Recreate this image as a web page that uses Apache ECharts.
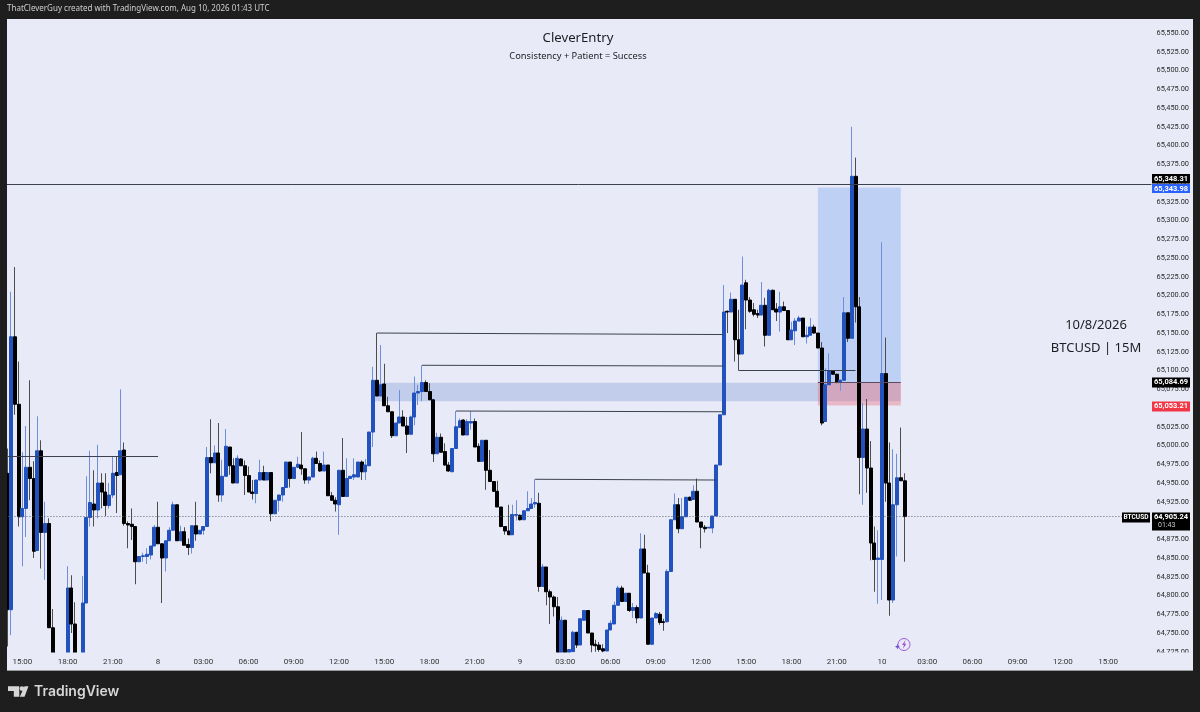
<!DOCTYPE html>
<html>
<head>
<meta charset="utf-8">
<style>
  html, body { margin: 0; padding: 0; background: #1e1e1e; }
  #main { width: 1200px; height: 712px; }
</style>
<script src="https://cdn.jsdelivr.net/npm/echarts@6/dist/echarts.min.js"></script>
</head>
<body>
<div id="main"></div>
<script>
// 15 minute BTCUSD candles
var opens = [
  64963,64781,65145,65055,64905,64916,64971,64956,64860,64993,
  64884,64896,64757,64690,64670,64680,64690,64810,64762,64700,
  64700,64790,64904,64922,64914,64950,64938,64920,64934,64964,
  64961,64994,64896,64895,64892,64845,64852,64852,64854,64866,
  64891,64869,64850,64873,64887,64921,64873,64885,64868,64864,
  64893,64882,64887,64892,64984,64977,64990,64934,64959,64998,
  64973,64950,64982,64973,64960,64938,64936,64954,64964,64954,
  64964,64909,64927,64934,64944,64978,64956,64971,64974,64969,
  64954,64958,64983,64976,64966,64974,64933,64927,64921,64967,
  64932,64956,64958,64958,64978,64965,64973,65018,65087,65066,
  65082,65053,65045,65013,65030,65038,65026,65015,65038,65070,
  65072,65084,65072,65061,64989,65011,64992,64974,64965,64996,
  65024,65034,65014,65030,65032,64999,64979,65007,64967,64952,
  64939,64918,64892,64886,64881,64907,64907,64901,64913,64916,
  64922,64923,64812,64838,64805,64798,64785,64724,64767,64724,
  64725,64751,64734,64767,64780,64750,64735,64734,64729,64726,
  64754,64762,64787,64810,64792,64803,64780,64784,64770,64862,
  64830,64735,64770,64775,64765,64765,64832,64901,64921,64889,
  64905,64931,64928,64939,64898,64891,64890,64890,64906,64974,
  65041,65179,65178,65195,65141,65122,65217,65194,65181,65176,
  65174,65187,65147,65207,65182,65178,65185,65180,65141,65153,
  65166,65170,65145,65147,65158,65150,65130,65032,65081,65100,
  65095,65084,65087,65177,65143,65359,65185,64984,65022,64970,
  64870,64848,64848,65096,64950,64794,64921,64957,64953
];
var closes = [
  64781,65145,65055,64905,64916,64971,64956,64859,64993,64884,
  64896,64757,64690,64670,64680,64690,64810,64762,64700,64690,
  64790,64904,64924,64914,64950,64938,64920,64934,64963,64960,
  64993,64896,64894,64892,64845,64852,64853,64855,64866,64891,
  64869,64850,64873,64887,64921,64873,64885,64867,64864,64893,
  64882,64887,64892,64984,64977,64990,64934,64959,64999,64973,
  64950,64983,64973,64960,64938,64936,64954,64964,64954,64964,
  64909,64927,64934,64944,64978,64956,64971,64975,64969,64954,
  64958,64983,64976,64966,64974,64933,64927,64922,64967,64932,
  64956,64959,64961,64978,64965,64974,65018,65087,65066,65081,
  65053,65045,65013,65030,65038,65026,65015,65038,65070,65072,
  65084,65072,65061,64989,65011,64991,64974,64966,64996,65025,
  65033,65014,65032,65032,64998,64979,65007,64967,64952,64939,
  64918,64892,64886,64881,64908,64908,64901,64913,64916,64922,
  64924,64812,64838,64805,64798,64785,64724,64767,64724,64728,
  64751,64734,64769,64780,64750,64734,64733,64728,64726,64754,
  64763,64787,64810,64792,64803,64780,64784,64770,64862,64830,
  64735,64770,64776,64764,64764,64832,64901,64921,64889,64905,
  64931,64927,64939,64898,64891,64889,64891,64906,64974,65041,
  65178,65178,65195,65141,65122,65214,65194,65179,65175,65174,
  65187,65147,65207,65181,65178,65185,65180,65141,65154,65166,
  65170,65145,65147,65158,65150,65130,65030,65081,65100,65095,
  65084,65087,65177,65143,65359,65185,64984,65022,64970,64870,
  64848,64850,65096,64950,64794,64921,64957,64953,64905.24
];
var lows = [
  64732,64747,65041,64892,64839,64878,64927,64850,64860,64836,
  64821,64757,64670,64660,64660,64670,64690,64750,64690,64680,
  64700,64790,64892,64892,64903,64916,64906,64916,64930,64910,
  64961,64893,64863,64874,64815,64845,64845,64842,64848,64866,
  64869,64790,64832,64873,64887,64873,64873,64867,64854,64856,
  64873,64882,64881,64892,64963,64977,64925,64925,64959,64961,
  64950,64950,64973,64934,64938,64928,64923,64954,64954,64954,
  64899,64909,64912,64925,64944,64944,64956,64971,64961,64949,
  64949,64958,64976,64965,64966,64933,64927,64912,64881,64932,
  64932,64956,64954,64958,64954,64954,64973,64998,65066,65066,
  65053,65045,65010,65013,65030,65026,64990,65015,65027,65054,
  65059,65072,65061,64978,64989,64991,64973,64965,64965,64996,
  65024,65014,65014,65021,64998,64978,64979,64941,64952,64938,
  64918,64891,64881,64881,64881,64900,64900,64901,64913,64916,
  64917,64805,64812,64787,64762,64772,64724,64724,64724,64724,
  64725,64730,64734,64767,64750,64724,64725,64725,64724,64726,
  64754,64762,64787,64792,64792,64778,64770,64763,64770,64830,
  64735,64735,64770,64761,64753,64764,64832,64901,64883,64889,
  64905,64926,64928,64898,64863,64884,64890,64883,64906,64974,
  65041,65150,65178,65112,65100,65122,65155,65177,65172,65170,
  65174,65132,65147,65181,65166,65152,65180,65141,65141,65134,
  65166,65145,65136,65147,65149,65130,65027,65032,65081,65095,
  65083,65073,65087,65138,65143,65164,64935,64921,64937,64847,
  64805,64789,64794,64925,64773,64790,64852,64953,64845
];
var highs = [
  64996,65205,65238,65112,64991,65026,65087,64979,65039,65007,
  64925,64903,64782,64700,64690,64700,64839,64827,64791,64710,
  64826,64959,64993,64967,65001,64963,64963,64950,64985,64985,
  65075,65004,64899,64916,64892,64852,64857,64863,64866,64894,
  64925,64869,64873,64891,64925,64921,64893,64891,64876,64893,
  64925,64887,64892,64998,65035,65000,65030,64981,65022,64998,
  64983,64987,64983,64980,64972,64954,64954,64981,64973,64964,
  64964,64927,64934,64944,64978,64978,64971,64985,65018,64969,
  64958,64985,64992,64980,64992,64974,64938,64931,64967,65010,
  64983,64959,64983,64978,64980,64982,65018,65105,65150,65134,
  65109,65065,65045,65030,65074,65047,65038,65040,65092,65081,
  65107,65087,65083,65061,65017,65016,65003,64978,64996,65046,
  65036,65035,65035,65046,65036,65003,65007,65007,64994,64952,
  64953,64918,64892,64921,64921,64927,64908,64913,64939,64930,
  64955,64937,64842,64838,64808,64800,64798,64772,64767,64728,
  64753,64751,64769,64780,64780,64750,64741,64738,64735,64754,
  64767,64792,64813,64813,64803,64803,64790,64787,64883,64881,
  64841,64770,64778,64778,64769,64835,64901,64936,64930,64930,
  64931,64932,64947,64956,64898,64894,64891,64906,64974,65041,
  65214,65180,65204,65195,65181,65252,65221,65198,65190,65181,
  65218,65197,65209,65208,65190,65205,65192,65180,65165,65170,
  65173,65170,65159,65170,65161,65150,65138,65103,65123,65100,
  65096,65088,65198,65177,65425,65384,65198,65057,65062,65006,
  64892,64887,65271,65144,65004,64995,64989,65024,64963
];
var xTicks = ['15:00','18:00','21:00','8','03:00','06:00','09:00','12:00','15:00','18:00','21:00','9',
  '03:00','06:00','09:00','12:00','15:00','18:00','21:00','10','03:00','06:00','09:00','12:00','15:00'];
var barCount = 304;
var candlesPerTick = 12;
var firstTickBar = 4;

// drawn liquidity lines: start bar, start price, end bar, end price
var segments = [
  [0, 64985.5, 40, 64985.5],
  [98, 65150, 190, 65148],
  [110, 65107, 190, 65106],
  [119, 65046, 190, 65045],
  [140, 64955, 188, 64954],
  [194, 65100, 225, 65100]
];
var levelPrice = 65348.31;
var lastPrice = 64905.24;
var entryPrice = 65084.69;
var targetPrice = 65343.98;
var stopPrice = 65053.21;
var zoneTop = 65083.7;
var zoneBottom = 65059;
var zoneStartBar = 97;
var tradeStartBar = 215;
var tradeEndBar = 237;

var headerText = 'ThatCleverGuy created with TradingView.com, Aug 10, 2026 01:43 UTC';
var titleText = 'CleverEntry';
var subtitleText = 'Consistency + Patient = Success';
var noteLines = ['10/8/2026', 'BTCUSD | 15M'];

var categories = [];
for (var i = 0; i < barCount; i++) {
  var t = (i - firstTickBar) / candlesPerTick;
  categories.push(i >= firstTickBar && t === Math.floor(t) && xTicks[t] ? xTicks[t] : '');
}

var wickData = [];
var bodyData = [];
for (var k = 0; k < opens.length; k++) {
  wickData.push([opens[k], closes[k], lows[k], highs[k]]);
  bodyData.push([opens[k], closes[k], Math.min(opens[k], closes[k]), Math.max(opens[k], closes[k])]);
}

var lineData = segments.map(function (s) {
  return [{ coord: [s[0], s[1]] }, { coord: [s[2], s[3]] }];
});
lineData.push({ yAxis: levelPrice });
lineData.push({ yAxis: lastPrice, lineStyle: { type: [1, 2], color: '#5c6070', width: 1 } });
lineData.push([
  { coord: [tradeStartBar, entryPrice], lineStyle: { color: '#5d4a60', width: 1 } },
  { coord: [tradeEndBar, entryPrice] }
]);

function priceTag(x, y, w, h, bg, text, size) {
  return {
    type: 'group', z: 60, children: [
      { type: 'rect', z: 60, shape: { x: x, y: y, width: w, height: h }, style: { fill: bg } },
      { type: 'text', z: 61, x: x + w / 2, y: y + 5, style: { text: text, fill: '#fff', font: 'bold ' + (size || 7.5) + 'px Roboto', align: 'center', verticalAlign: 'middle' } }
    ]
  };
}

var chart = echarts.init(document.getElementById('main'));
chart.setOption({
  animation: false,
  backgroundColor: '#1e1e1e',
  grid: { left: 5.415, top: 19, width: 1146.08, height: 632.75, show: false },
  xAxis: {
    type: 'category',
    data: categories,
    z: 4,
    axisLine: { show: false },
    axisTick: { show: false },
    splitLine: { show: false },
    axisLabel: { interval: 0, color: '#333', fontFamily: 'Roboto', fontSize: 8, margin: 6, hideOverlap: false }
  },
  yAxis: {
    type: 'value',
    position: 'right',
    min: 64725,
    max: 65568.75,
    interval: 25,
    axisLine: { show: false },
    axisTick: { show: false },
    splitLine: { show: false },
    axisLabel: {
      color: '#2a2a2a',
      fontFamily: 'Roboto',
      fontSize: 7.4,
      margin: 5,
      formatter: function (v) {
        if (v % 25 !== 0) return '';
        return v.toLocaleString('en-US', { minimumFractionDigits: 2, maximumFractionDigits: 2 });
      }
    }
  },
  series: [
    {
      name: 'wicks',
      type: 'candlestick',
      barWidth: 1,
      data: wickData,
      itemStyle: { color: '#6f8fdc', color0: '#4d4d4d', borderColor: '#6f8fdc', borderColor0: '#4d4d4d', borderColorDoji: '#4d4d4d', borderWidth: 1 },
      markArea: {
        silent: true,
        data: [
          [{ coord: [zoneStartBar, zoneTop], itemStyle: { color: '#c2cdeb' } }, { coord: [tradeEndBar, zoneBottom] }],
          [{ coord: [tradeStartBar, targetPrice], itemStyle: { color: '#bfd0f5' } }, { coord: [tradeEndBar, entryPrice] }],
          [{ coord: [tradeStartBar, entryPrice], itemStyle: { color: 'rgba(232,115,130,0.42)' } }, { coord: [tradeEndBar, stopPrice] }]
        ]
      },
      markLine: {
        silent: true,
        symbol: 'none',
        label: { show: false },
        lineStyle: { color: '#3c4152', width: 1, type: 'solid' },
        data: lineData
      }
    },
    {
      name: 'bodies',
      type: 'candlestick',
      barWidth: 3.5,
      data: bodyData,
      itemStyle: { color: '#2152be', color0: '#000', borderColor: '#2152be', borderColor0: '#000', borderColorDoji: '#000', borderWidth: 1 }
    }
  ],
  graphic: { elements: [
    { type: 'rect', z: -1, shape: { x: 7, y: 19, width: 1186, height: 651 }, style: { fill: '#e8ebf7' } },
    { type: 'rect', z: 50, shape: { x: 0, y: 0, width: 7, height: 712 }, style: { fill: '#1e1e1e' } },
    // candles are only culled, not cut, so the strip under the plot hides what sticks out
    { type: 'rect', z: 3, shape: { x: 7, y: 652.5, width: 1186, height: 17.5 }, style: { fill: '#e8ebf7' } },
    { type: 'rect', z: 3, shape: { x: 7, y: 670, width: 1186, height: 42 }, style: { fill: '#1e1e1e' } },
    { type: 'rect', z: 50, shape: { x: 7, y: 670, width: 1186, height: 1 }, style: { fill: '#9a9a9a' } },

    { type: 'text', z: 50, x: 7, y: 9, style: { text: headerText, fill: '#cfcfcf', font: '8px "Noto Sans"', verticalAlign: 'middle' } },
    { type: 'text', z: 50, x: 578, y: 38, style: { text: titleText, fill: '#1c1c22', font: '13.2px "Noto Sans"', align: 'center', verticalAlign: 'middle' } },
    { type: 'text', z: 50, x: 578, y: 56, style: { text: subtitleText, fill: '#1c1c22', font: '9.3px "Noto Sans"', align: 'center', verticalAlign: 'middle' } },
    { type: 'text', z: 50, x: 1096, y: 325, style: { text: noteLines[0], fill: '#1c1c22', font: '13px "Noto Sans"', align: 'center', verticalAlign: 'middle' } },
    { type: 'text', z: 50, x: 1096, y: 348, style: { text: noteLines[1], fill: '#1c1c22', font: '13px "Noto Sans"', align: 'center', verticalAlign: 'middle' } },

    priceTag(1152, 174, 38, 9.5, '#000', '65,348.31'),
    priceTag(1152, 184, 38, 9, '#2962ff', '65,343.98'),
    priceTag(1152, 377.5, 38, 10, '#000', '65,084.69'),
    priceTag(1152, 401.5, 38, 10, '#f23645', '65,053.21'),
    priceTag(1122, 512.5, 28, 10, '#000', 'BTCUSD', 6.6),
    priceTag(1152, 512.5, 38, 18, '#000', '64,905.24'),
    { type: 'text', z: 61, x: 1158, y: 525, style: { text: '01:43', fill: '#c8c8c8', font: '7px Roboto', verticalAlign: 'middle' } },

    // lightning badge near the last bar
    { type: 'circle', z: 50, shape: { cx: 904, cy: 644.5, r: 6 }, style: { fill: 'transparent', stroke: '#a05ad8', lineWidth: 1 } },
    { type: 'polygon', z: 50, shape: { points: [[905.5, 640], [902, 645], [904, 645], [902.8, 649], [906.4, 643.8], [904.4, 643.8]] }, style: { fill: '#9c4fd6' } },
    { type: 'polygon', z: 50, shape: { points: [[897.4, 644], [898.2, 646], [900, 646.8], [898.2, 647.6], [897.4, 649.6], [896.6, 647.6], [894.8, 646.8], [896.6, 646]] }, style: { fill: '#6f4fd6' } },

    // TradingView logo
    { type: 'polygon', z: 50, shape: { points: [[8, 686.3], [19.3, 686.3], [19.3, 696.8], [13.8, 696.8], [13.8, 691], [8, 691]] }, style: { fill: '#d6d6d6' } },
    { type: 'circle', z: 50, shape: { cx: 22, cy: 688.6, r: 2.3 }, style: { fill: '#d6d6d6' } },
    { type: 'polygon', z: 50, shape: { points: [[24.5, 686.3], [28.5, 686.3], [24.5, 696.8], [19.8, 696.8]] }, style: { fill: '#d6d6d6' } },
    { type: 'text', z: 50, x: 34, y: 691.5, style: { text: 'TradingView', fill: '#d6d6d6', font: '600 14px Inter', verticalAlign: 'middle' } }
  ] }
});
</script>
</body>
</html>
